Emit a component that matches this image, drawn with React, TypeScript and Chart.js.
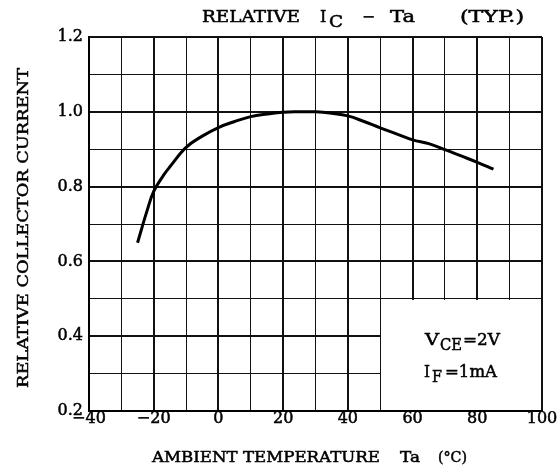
import React, { useEffect, useRef } from 'react';
import { Chart, registerables } from 'chart.js';

Chart.register(...registerables);

// ---- data ----
const temperatures = [-25, -22, -20, -17, -15, -10, -5, 0, 5, 10, 15, 20, 25, 30, 35, 40, 45, 50, 55, 60, 65, 70, 75, 80, 85];
const relativeIc = [0.65, 0.737, 0.787, 0.83, 0.853, 0.905, 0.935, 0.958, 0.974, 0.987, 0.994, 0.999, 1.0, 1.0, 0.996, 0.989, 0.974, 0.957, 0.941, 0.925, 0.915, 0.899, 0.882, 0.865, 0.847];

const xLabeledTicks = [-40, -20, 0, 20, 40, 60, 80, 100];
const yLabeledTicks = [0.2, 0.4, 0.6, 0.8, 1.0, 1.2];

const titleMain = 'RELATIVE';
const titleI = 'I';
const titleSub = 'C';
const titleDash = '\u2212';
const titleTa = 'Ta';
const titleTyp = '(TYP.)';
const xAxisTitle = 'AMBIENT TEMPERATURE';
const xAxisTa = 'Ta';
const xAxisUnit = '(\u00B0C)';
const yAxisTitle = 'RELATIVE COLLECTOR CURRENT';
const condV = 'V';
const condVSub = 'CE';
const condVVal = '=2V';
const condI = 'I';
const condISub = 'F';
const condIVal = '=1mA';

const FAMILY = '"DejaVu Serif", "Liberation Serif", serif';

function put(ctx: CanvasRenderingContext2D, text: string, x: number, y: number, width?: number) {
  const w = ctx.measureText(text).width;
  const sx = width ? width / w : 1;
  ctx.save();
  ctx.translate(x, y);
  ctx.scale(sx, 1);
  ctx.fillText(text, 0, 0);
  ctx.lineWidth = 0.5;
  ctx.strokeText(text, 0, 0);
  ctx.restore();
}

const decorPlugin = {
  id: 'decor',
  beforeDatasetsDraw(chart: any) {
    const ctx = chart.ctx as CanvasRenderingContext2D;
    const xs = chart.scales.x;
    const ys = chart.scales.y;
    const x0 = xs.getPixelForValue(50);
    const x1 = xs.getPixelForValue(100);
    const y0 = ys.getPixelForValue(0.5);
    const y1 = ys.getPixelForValue(0.2);
    ctx.save();
    ctx.fillStyle = '#fff';
    ctx.fillRect(Math.round(x0) + 1, Math.round(y0) + 1, Math.round(x1) - Math.round(x0) - 2, Math.round(y1) - Math.round(y0) - 2);
    ctx.restore();
  },
  afterDraw(chart: any) {
    const ctx = chart.ctx as CanvasRenderingContext2D;
    ctx.save();
    ctx.fillStyle = '#000';
    ctx.strokeStyle = '#000';
    ctx.textAlign = 'left';
    ctx.textBaseline = 'alphabetic';

    // title
    ctx.font = `16px ${FAMILY}`;
    put(ctx, titleMain, 202, 22, 98);
    put(ctx, titleI, 320, 22);
    put(ctx, titleSub, 329, 26.5, 14);
    put(ctx, titleDash, 362, 22, 13);
    put(ctx, titleTa, 390, 22, 25);
    put(ctx, titleTyp, 460, 22, 64);

    // x axis title
    ctx.font = `15px ${FAMILY}`;
    put(ctx, xAxisTitle, 152, 461.5, 228);
    put(ctx, xAxisTa, 400, 461.5, 20);
    put(ctx, xAxisUnit, 438, 461.5, 29);

    // y axis title
    ctx.save();
    ctx.translate(28, 388);
    ctx.rotate(-Math.PI / 2);
    put(ctx, yAxisTitle, 0, 0, 320);
    ctx.restore();

    // conditions
    ctx.font = `17px ${FAMILY}`;
    put(ctx, condV, 425, 345, 14);
    put(ctx, condVSub, 440, 350, 22);
    put(ctx, condVVal, 463, 345, 37);
    put(ctx, condI, 424, 377, 6);
    put(ctx, condISub, 432, 382, 10);
    put(ctx, condIVal, 445, 377, 52);

    ctx.restore();
  },
};

export default function App() {
  const ref = useRef<HTMLCanvasElement | null>(null);

  useEffect(() => {
    if (!ref.current) return;
    const chart = new Chart(ref.current, {
      type: 'line',
      data: {
        datasets: [
          {
            data: temperatures.map((t, i) => ({ x: t, y: relativeIc[i] })),
            borderColor: '#000',
            borderWidth: 3,
            pointRadius: 0,
            tension: 0.4,
            fill: false,
          },
        ],
      },
      options: {
        responsive: false,
        animation: false,
        layout: { padding: { top: 37, right: 17, bottom: 0, left: 0 } },
        plugins: { legend: { display: false }, tooltip: { enabled: false }, title: { display: false } },
        scales: {
          x: {
            type: 'linear',
            min: -40,
            max: 100,
            afterFit: (s: any) => {
              s.height = 54;
            },
            ticks: {
              stepSize: 10,
              autoSkip: false,
              maxRotation: 0,
              padding: 0,
              color: '#000',
              textStrokeColor: '#000',
              textStrokeWidth: 0.5,
              font: { family: FAMILY, size: 16, lineHeight: 1 },
              callback: (v: any) => {
                const n = Math.round(Number(v));
                if (!xLabeledTicks.includes(n)) return '';
                return n < 0 ? '\u2212' + Math.abs(n) : String(n);
              },
            },
            grid: {
              drawTicks: false,
              color: '#111',
              lineWidth: (c: any) => {
                const n = Math.round(c.tick ? c.tick.value : 0);
                return xLabeledTicks.includes(n) ? 2 : 1;
              },
            },
            border: { display: true, color: '#000', width: 2 },
          },
          y: {
            type: 'linear',
            min: 0.2,
            max: 1.2,
            afterFit: (s: any) => {
              s.width = 89;
            },
            ticks: {
              stepSize: 0.1,
              autoSkip: false,
              padding: 6,
              color: '#000',
              textStrokeColor: '#000',
              textStrokeWidth: 0.5,
              font: { family: FAMILY, size: 16, lineHeight: 1 },
              callback: (v: any) => {
                const n = Math.round(Number(v) * 10) / 10;
                return yLabeledTicks.some((t) => Math.abs(t - n) < 1e-6) ? n.toFixed(1) : '';
              },
            },
            grid: {
              drawTicks: false,
              color: '#111',
              lineWidth: (c: any) => {
                const n = Math.round((c.tick ? c.tick.value : 0) * 10) / 10;
                return yLabeledTicks.some((t) => Math.abs(t - n) < 1e-6) ? 2 : 1;
              },
            },
            border: { display: true, color: '#000', width: 2 },
          },
        },
      },
      plugins: [decorPlugin],
    } as any);
    return () => chart.destroy();
  }, []);

  return (
    <div style={{ position: 'fixed', left: 0, top: 0, width: 559, height: 465, background: '#fff' }}>
      <canvas ref={ref} width={559} height={465} style={{ display: 'block' }} />
    </div>
  );
}
